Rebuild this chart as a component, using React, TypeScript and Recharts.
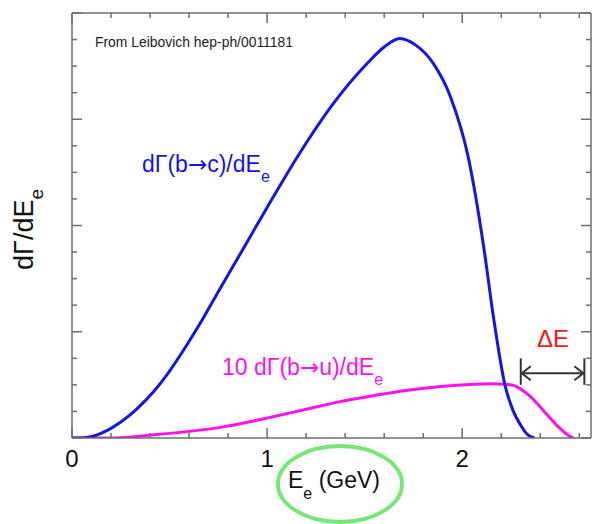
import React from "react"
import { LineChart, Line, XAxis, YAxis, ReferenceLine } from "recharts"

// electron energy (GeV) and rate, arbitrary units
const bcEnergy = [0, 0.04, 0.13, 0.25, 0.33, 0.42, 0.5, 0.59, 0.67, 0.76, 0.83, 1.0, 1.17, 1.34, 1.51, 1.6, 1.68, 1.76, 1.85, 1.94, 2.03, 2.11, 2.16, 2.22, 2.26, 2.3, 2.33, 2.37]
const bcRate = [0, 0, 0.03, 0.15, 0.27, 0.44, 0.63, 0.88, 1.12, 1.41, 1.63, 2.17, 2.69, 3.15, 3.52, 3.68, 3.76, 3.7, 3.53, 3.21, 2.65, 1.8, 1.14, 0.49, 0.26, 0.12, 0.04, 0]

const buEnergy = [0, 0.2, 0.42, 0.59, 0.76, 0.93, 1.03, 1.2, 1.37, 1.55, 1.72, 1.89, 2.06, 2.15, 2.22, 2.27, 2.3, 2.35, 2.42, 2.49, 2.54, 2.57]
const buRate = [0, 0, 0.03, 0.06, 0.1, 0.16, 0.2, 0.27, 0.34, 0.4, 0.45, 0.485, 0.505, 0.51, 0.505, 0.49, 0.46, 0.39, 0.25, 0.11, 0.03, 0]

const energyTicks = [0, 0.2, 0.4, 0.6, 0.8, 1, 1.2, 1.4, 1.6, 1.8, 2, 2.2, 2.4, 2.6]
const rateTicks = [0, 0.25, 0.5, 0.75, 1, 1.25, 1.5, 1.75, 2, 2.25, 2.5, 2.75, 3, 3.25, 3.5, 3.75, 4]

// the Delta E window marked with the arrow
const deltaEStart = 2.3
const deltaEEnd = 2.626

const bcData = bcEnergy.map((e, i) => ({ e, v: bcRate[i] }))
const buData = buEnergy.map((e, i) => ({ e, v: buRate[i] }))

const FONT = "'Liberation Sans', Arial, Helvetica, sans-serif"
const ARROW_FONT = "'DejaVu Sans', sans-serif"
const AXIS = "#6e6e6e"

const isMajor = (v: number) => Math.abs(v - Math.round(v)) < 1e-6

function BottomTick({ x, y, payload }: any) {
  const major = isMajor(payload.value)
  return (
    <g>
      <line x1={x} x2={x} y1={y} y2={y - (major ? 10 : 5)} stroke={AXIS} strokeWidth={1.5} />
      {major && (
        <text x={x} y={y + 29} textAnchor="middle" fontSize={24} fontFamily={FONT} fill="#111">
          {Math.round(payload.value)}
        </text>
      )}
    </g>
  )
}

function TopTick({ x, y, payload }: any) {
  const major = isMajor(payload.value)
  return <line x1={x} x2={x} y1={y} y2={y + (major ? 10 : 5)} stroke={AXIS} strokeWidth={1.5} />
}

function LeftTick({ x, y, payload }: any) {
  const major = isMajor(payload.value)
  return <line x1={x} x2={x + (major ? 10 : 5)} y1={y} y2={y} stroke={AXIS} strokeWidth={1.5} />
}

function RightTick({ x, y, payload }: any) {
  const major = isMajor(payload.value)
  return <line x1={x} x2={x - (major ? 10 : 5)} y1={y} y2={y} stroke={AXIS} strokeWidth={1.5} />
}

function DoubleArrow({ x1, y1, x2 }: any) {
  const c = "#333"
  return (
    <g stroke={c} strokeWidth={2} fill="none">
      <line x1={x1} x2={x2} y1={y1} y2={y1} />
      <polyline points={`${x1 + 10},${y1 - 7} ${x1 + 1},${y1} ${x1 + 10},${y1 + 7}`} />
      <polyline points={`${x2 - 10},${y1 - 7} ${x2 - 1},${y1} ${x2 - 10},${y1 + 7}`} />
    </g>
  )
}

export default function App() {
  return (
    <div style={{ position: "absolute", left: 0, top: 0, width: 593, height: 524, background: "#fff" }}>
      <LineChart width={593} height={524} margin={{ top: 12, right: 1, left: 0, bottom: 0 }}>
        <XAxis
          xAxisId="bottom"
          dataKey="e"
          type="number"
          domain={[0, 2.66]}
          allowDataOverflow
          ticks={energyTicks}
          interval={0}
          height={86}
          tickSize={0}
          tickMargin={0}
          tickLine={false}
          tick={<BottomTick />}
          stroke={AXIS}
          strokeWidth={1.5}
        />
        <XAxis
          xAxisId="top"
          orientation="top"
          dataKey="e"
          type="number"
          domain={[0, 2.66]}
          allowDataOverflow
          ticks={energyTicks}
          interval={0}
          height={1}
          tickSize={0}
          tickMargin={0}
          tickLine={false}
          tick={<TopTick />}
          stroke={AXIS}
          strokeWidth={1.5}
        />
        <YAxis
          yAxisId="left"
          type="number"
          domain={[0, 4]}
          allowDataOverflow
          ticks={rateTicks}
          interval={0}
          width={72}
          tickSize={0}
          tickMargin={0}
          tickLine={false}
          tick={<LeftTick />}
          stroke={AXIS}
          strokeWidth={1.5}
        />
        <YAxis
          yAxisId="right"
          orientation="right"
          type="number"
          domain={[0, 4]}
          allowDataOverflow
          ticks={rateTicks}
          interval={0}
          width={1}
          tickSize={0}
          tickMargin={0}
          tickLine={false}
          tick={<RightTick />}
          stroke={AXIS}
          strokeWidth={1.5}
        />
        <Line
          xAxisId="bottom"
          yAxisId="left"
          data={buData}
          dataKey="v"
          type="monotone"
          stroke="#ff10f0"
          strokeWidth={3}
          dot={false}
          isAnimationActive={false}
        />
        <Line
          xAxisId="bottom"
          yAxisId="left"
          data={bcData}
          dataKey="v"
          type="monotone"
          stroke="#1414e6"
          strokeWidth={3}
          dot={false}
          isAnimationActive={false}
        />
        <ReferenceLine
          xAxisId="bottom"
          yAxisId="left"
          segment={[{ x: deltaEStart, y: 0.61 }, { x: deltaEEnd, y: 0.61 }]}
          shape={<DoubleArrow />}
        />
        <ReferenceLine
          xAxisId="bottom"
          yAxisId="left"
          segment={[{ x: deltaEStart, y: 0.5 }, { x: deltaEStart, y: 0.75 }]}
          stroke="#333"
          strokeWidth={2}
        />
        <ReferenceLine
          xAxisId="bottom"
          yAxisId="left"
          segment={[{ x: deltaEEnd, y: 0.5 }, { x: deltaEEnd, y: 0.75 }]}
          stroke="#333"
          strokeWidth={2}
        />
        <text x={95} y={47} fontSize={15} fontFamily={FONT} fill="#222" textLength={198} lengthAdjust="spacingAndGlyphs">
          From Leibovich hep-ph/0011181
        </text>
        <text x={142} y={172} fontSize={23} fontFamily={FONT} fill="#1414e6">
          dΓ(b<tspan fontFamily={ARROW_FONT}>→</tspan>c)/dE<tspan fontSize={16} dy={10}>e</tspan>
        </text>
        <text x={222} y={375} fontSize={23} fontFamily={FONT} fill="#ff10f0">
          10 dΓ(b<tspan fontFamily={ARROW_FONT}>→</tspan>u)/dE<tspan fontSize={16} dy={10}>e</tspan>
        </text>
        <text x={537} y={347} fontSize={24} fontFamily={FONT} fill="#f01818">
          ΔE
        </text>
        <text x={33} y={270} fontSize={27} fontFamily={FONT} fill="#111" transform="rotate(-90, 33, 270)">
          dΓ/dE<tspan fontSize={19} dy={10}>e</tspan>
        </text>
        <text x={288} y={488} fontSize={23} fontFamily={FONT} fill="#111">
          E<tspan fontSize={16} dy={11}>e</tspan>
          <tspan dy={-11}> (GeV)</tspan>
        </text>
        <ellipse cx={340} cy={484} rx={62} ry={38} fill="none" stroke="#74e874" strokeWidth={4} />
      </LineChart>
    </div>
  )
}
